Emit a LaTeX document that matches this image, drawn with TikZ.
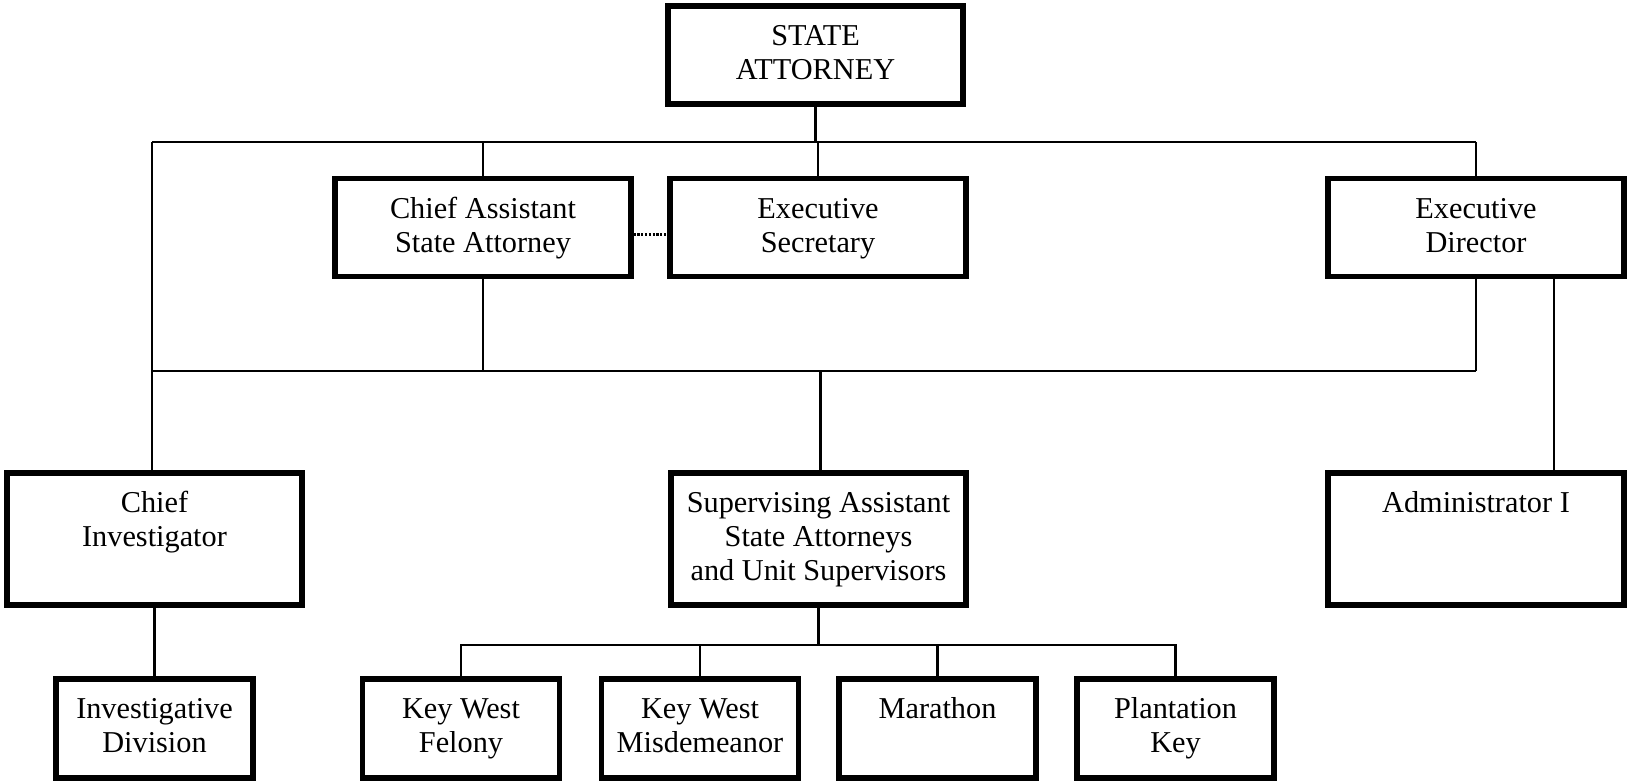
\documentclass[tikz,border=0pt]{standalone}
\usepackage{fontspec}
\setmainfont{Liberation Serif}
\usetikzlibrary{calc}
\newcommand\fl{\rule{0pt}{22pt}}
\begin{document}
\begin{tikzpicture}[x=1pt,y=-1pt,
  boxbase/.style={draw, rectangle, line width=5.7pt, inner sep=0pt},
  wbox/.style={boxbase, minimum width=295.5pt, minimum height=98pt},
  tbox/.style={boxbase, minimum width=295.5pt, minimum height=132.5pt},
  sbox/.style={boxbase, minimum width=197pt, minimum height=99.3pt},
  conn/.style={line width=2.6pt},
  dotline/.style={line width=3pt, dash pattern=on 2.2pt off 1.6pt},
  txt/.style={anchor=north, inner sep=0pt, align=center, font=\fontsize{30.3}{34}\selectfont}]
\useasboundingbox (0,0) rectangle (1627,781);

% boxes
\node[wbox] (sa)   at (815.5,55)   {};
\node[wbox] (casa) at (483,227.5)  {};
\node[wbox] (es)   at (818,227.5)  {};
\node[wbox] (ed)   at (1476,227.5) {};
\node[tbox] (ci)   at (154.5,539)  {};
\node[tbox] (sup)  at (818.5,539)  {};
\node[tbox] (adm)  at (1476,539)   {};
\node[sbox] (inv)  at (154.5,728.5) {};
\node[sbox] (kwf)  at (461,728.5)  {};
\node[sbox] (kwm)  at (700,728.5)  {};
\node[sbox] (mar)  at (937.5,728.5) {};
\node[sbox] (pk)   at (1175.5,728.5) {};

% texts
\node[txt] (tsa)   at ($(sa.north)+(0,20.2)$)   {\fl STATE\\ATTORNEY};
\node[txt] (tcasa) at ($(casa.north)+(0,20.2)$) {\fl Chief Assistant\\State Attorney};
\node[txt] (tes)   at ($(es.north)+(0,20.2)$)   {\fl Executive\\Secretary};
\node[txt] (ted)   at ($(ed.north)+(0,20.2)$)   {\fl Executive\\Director};
\node[txt] (tci)   at ($(ci.north)+(0,20.2)$)   {\fl Chief\\Investigator};
\node[txt] (tsup)  at ($(sup.north)+(0,20.2)$)  {\fl Supervising Assistant\\State Attorneys\\and Unit Supervisors};
\node[txt] (tadm)  at ($(adm.north)+(0,20.2)$)  {\fl Administrator I};
\node[txt] (tinv)  at ($(inv.north)+(0,20.2)$)  {\fl Investigative\\Division};
\node[txt] (tkwf)  at ($(kwf.north)+(0,20.2)$)  {\fl Key West\\Felony};
\node[txt] (tkwm)  at ($(kwm.north)+(0,20.2)$)  {\fl Key West\\Misdemeanor};
\node[txt] (tmar)  at ($(mar.north)+(0,20.2)$)  {\fl Marathon};
\node[txt] (tpk)   at ($(pk.north)+(0,20.2)$)   {\fl Plantation\\Key};

% bus coordinates
\coordinate (b1L) at (152,142);
\coordinate (b1R) at (1476,142);
\coordinate (b2L) at (152,371);
\coordinate (b2R) at (1476,371);
\path (sup.south) ++(0,36.8) coordinate (b3);

% top bus
\draw[conn] (sa.south) -- (sa.south |- b1L);
\draw[conn] (b1L) -- (b1R);
\draw[conn] (casa.north) -- (casa.north |- b1L);
\draw[conn] (es.north) -- (es.north |- b1L);
\draw[conn] (ed.north) -- (ed.north |- b1L);
\draw[conn] (b1L) -- (b1L |- ci.north);

% second bus
\draw[conn] (b2L) -- (b2R);
\draw[conn] (casa.south) -- (casa.south |- b2L);
\draw[conn] (ed.south) -- (ed.south |- b2L);
\draw[conn] ([xshift=2pt]sup.north |- b2L) -- ([xshift=2pt]sup.north);
\draw[conn] ([xshift=78pt]ed.south) -- ([xshift=78pt]ed.south |- adm.north);

% lower links
\draw[conn] (ci.south) -- (inv.north);
\draw[conn] (sup.south) -- (b3);
\draw[conn] (kwf.north) |- (b3) -| (pk.north);
\draw[conn] (kwm.north) -- (kwm.north |- b3);
\draw[conn] (mar.north) -- (mar.north |- b3);

% dotted relation
\draw[dotline] ([yshift=-6.5pt]casa.east) -- ([yshift=-6.5pt]casa.east -| es.west);
\end{tikzpicture}
\end{document}
